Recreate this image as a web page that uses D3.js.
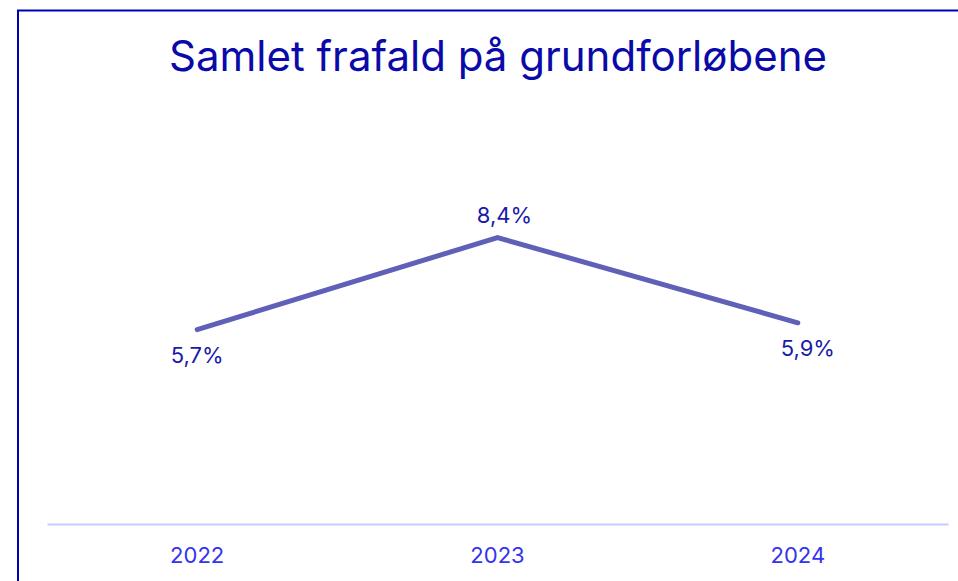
<!DOCTYPE html>
<html>
<head>
<meta charset="utf-8">
<script src="https://cdn.jsdelivr.net/npm/d3@7"></script>
<style>
  body { margin: 0; background: #fff; }
  svg { display: block; font-family: Inter, "Noto Sans", sans-serif; }
</style>
</head>
<body>
<div id="chart"></div>
<script>
(function(d3) {
    'use strict';

    // data
    var years = ['2022', '2023', '2024'];
    var dropout = [5.7, 8.4, 5.9];
    var valueLabels = ['5,7%', '8,4%', '5,9%'];
    var chartTitle = 'Samlet frafald på grundforløbene';

    var width = 958;
    var height = 581;
    var margin = { top: 183, right: 10, bottom: 57, left: 47 };

    var svg = d3.select('#chart')
      .append('svg')
      .attr('width', width)
      .attr('height', height);

    // frame (runs off the right and bottom edges)
    svg.append('rect')
      .attr('x', 18)
      .attr('y', 10.5)
      .attr('width', 960)
      .attr('height', 600)
      .attr('fill', 'none')
      .attr('stroke', '#0000b4')
      .attr('stroke-width', 2);

    svg.append('text')
      .attr('x', 498)
      .attr('y', 71)
      .attr('text-anchor', 'middle')
      .attr('fill', '#0a0aa8')
      .style('font-size', '42px')
      .text(chartTitle);

    var x = d3.scaleBand()
      .domain(years)
      .range([margin.left, width - margin.right])
      .padding(0);

    var y = d3.scaleLinear()
      .domain([0, 10])
      .range([height - margin.bottom, margin.top]);

    var data = years.map(function(d, i) {
      return { year: d, value: dropout[i], label: valueLabels[i] };
    });

    var cx = function(d) { return x(d.year) + x.bandwidth() / 2; };

    // baseline axis
    var xAxis = svg.append('g')
      .attr('transform', 'translate(0,' + y(0) + ')')
      .call(d3.axisBottom(x).tickSize(0).tickPadding(23));

    xAxis.select('.domain')
      .attr('stroke', '#c8ccff')
      .attr('stroke-width', 2);

    xAxis.selectAll('text')
      .attr('fill', '#3333f0')
      .style('font-family', 'Inter, "Noto Sans", sans-serif')
      .style('font-size', '22px');

    var line = d3.line()
      .x(cx)
      .y(function(d) { return y(d.value); });

    svg.append('path')
      .datum(data)
      .attr('d', line)
      .attr('fill', 'none')
      .attr('stroke', '#6060b8')
      .attr('stroke-width', 5)
      .attr('stroke-linecap', 'round')
      .attr('stroke-linejoin', 'miter');

    // labels: above the peak, below the others
    var maxVal = d3.max(dropout);
    var nudge = [0, 7, 10];

    svg.selectAll('.value-label')
      .data(data)
      .enter()
      .append('text')
      .attr('class', 'value-label')
      .attr('x', function(d, i) { return cx(d) + nudge[i]; })
      .attr('y', function(d) {
        return d.value === maxVal ? y(d.value) - 15 : y(d.value) + 33;
      })
      .attr('text-anchor', 'middle')
      .attr('fill', '#1a1aa8')
      .style('font-size', '22px')
      .text(function(d) { return d.label; });

})(window.d3);
</script>
</body>
</html>
